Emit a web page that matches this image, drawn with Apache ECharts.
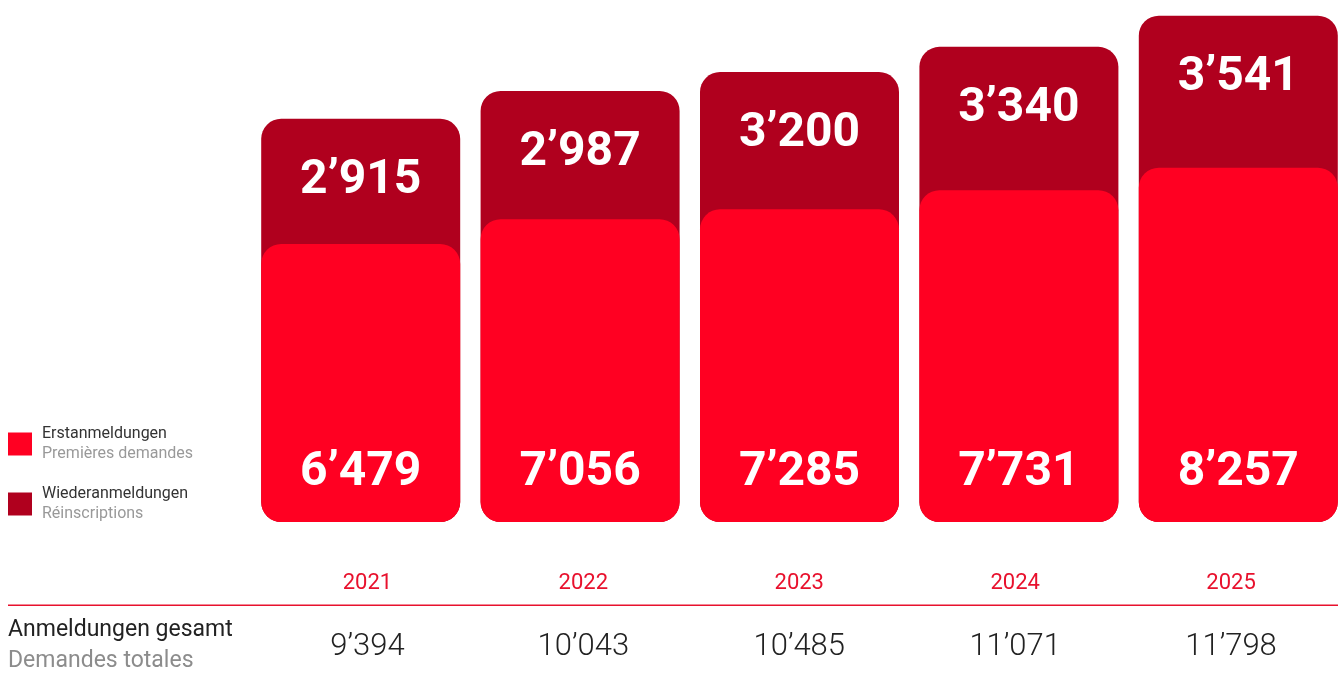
<!DOCTYPE html>
<html>
<head>
<meta charset="utf-8">
<script src="https://cdn.jsdelivr.net/npm/echarts@6/dist/echarts.min.js"></script>
<style>
  html, body { margin: 0; padding: 0; background: #fff; overflow: hidden; }
  #chart { width: 1352px; height: 676px; }
</style>
</head>
<body>
<div id="chart"></div>
<script>
// Anmeldungen pro Jahr
var years = ['2021', '2022', '2023', '2024', '2025']
var erstanmeldungen = [6479, 7056, 7285, 7731, 8257]
var wiederanmeldungen = [2915, 2987, 3200, 3340, 3541]
var gesamt = [9394, 10043, 10485, 11071, 11798]

var RED = '#ff0022'
var DARK = '#b0001e'
var LINE_RED = '#e8112d'
var FONT = 'Roboto'

// 9394 -> 9’394
function fmt (v) {
  return String(v).replace(/\B(?=(\d{3})+(?!\d))/g, '\u2019')
}

var legendText = {
  Erstanmeldungen: 'Premières demandes',
  Wiederanmeldungen: 'Réinscriptions'
}

var myChart = echarts.init(document.getElementById('chart'))

var option = {
  animation: false,
  textStyle: { fontFamily: FONT },
  legend: {
    orient: 'vertical',
    left: 8,
    top: 426,
    padding: 0,
    itemWidth: 24,
    itemHeight: 23,
    itemGap: 24,
    icon: 'rect',
    data: ['Erstanmeldungen', 'Wiederanmeldungen'],
    formatter: function (name) {
      return '{a|' + name + '}\n{b|' + legendText[name] + '}'
    },
    textStyle: {
      padding: [0, 0, 0, 5],
      rich: {
        a: { fontFamily: FONT, fontSize: 16, color: '#333', lineHeight: 20 },
        b: { fontFamily: FONT, fontSize: 16, color: '#999', lineHeight: 20 }
      }
    }
  },
  grid: [
    { left: 251, width: 1097, top: 7, bottom: 154 },
    { left: 259.5, width: 1079.5, top: 580, height: 50 }
  ],
  xAxis: [
    {
      type: 'category',
      gridIndex: 0,
      data: years,
      axisLine: { show: false },
      axisTick: { show: false },
      axisLabel: { show: false }
    },
    {
      type: 'category',
      gridIndex: 1,
      position: 'top',
      data: years,
      axisLine: { show: false },
      axisTick: { show: false },
      axisLabel: { color: LINE_RED, fontSize: 22, margin: -14 }
    },
    {
      type: 'category',
      gridIndex: 1,
      position: 'bottom',
      data: gesamt.map(fmt),
      axisLine: { show: false },
      axisTick: { show: false },
      axisLabel: { color: '#222', fontSize: 31, fontWeight: 300, margin: 2 }
    }
  ],
  yAxis: [
    { type: 'value', gridIndex: 0, min: 0, max: 12000, show: false },
    { type: 'value', gridIndex: 1, show: false }
  ],
  graphic: [
    {
      // rote Trennlinie über der Tabelle
      type: 'rect',
      z: 100,
      shape: { x: 8, y: 604.5, width: 1330, height: 1.5 },
      style: { fill: LINE_RED, stroke: null }
    },
    {
      type: 'text',
      left: 8,
      top: 619,
      style: {
        text: 'Anmeldungen gesamt',
        fill: '#222',
        font: '23px ' + FONT
      }
    },
    {
      type: 'text',
      left: 8,
      top: 650,
      style: {
        text: 'Demandes totales',
        fill: '#8c8c8c',
        font: '23px ' + FONT
      }
    }
  ],
  series: [
    {
      name: 'Wiederanmeldungen',
      type: 'bar',
      xAxisIndex: 0,
      yAxisIndex: 0,
      barWidth: 199,
      data: gesamt,
      itemStyle: { color: DARK, borderRadius: 20 },
      label: {
        show: true,
        position: 'insideTop',
        distance: 38,
        color: '#fff',
        fontSize: 48,
        fontWeight: 'bold',
        fontFamily: FONT,
        formatter: function (p) { return fmt(wiederanmeldungen[p.dataIndex]) }
      }
    },
    {
      name: 'Erstanmeldungen',
      type: 'bar',
      xAxisIndex: 0,
      yAxisIndex: 0,
      barWidth: 199,
      barGap: '-100%',
      data: erstanmeldungen,
      itemStyle: { color: RED, borderRadius: 20 },
      label: {
        show: true,
        position: 'insideBottom',
        distance: 25,
        color: '#fff',
        fontSize: 48,
        fontWeight: 'bold',
        fontFamily: FONT,
        formatter: function (p) { return fmt(p.value) }
      }
    },
    {
      // leere Serie, damit die Tabellenachsen gezeichnet werden
      type: 'bar',
      xAxisIndex: 1,
      yAxisIndex: 1,
      data: [],
      silent: true
    }
  ]
}

myChart.setOption(option)
</script>
</body>
</html>
